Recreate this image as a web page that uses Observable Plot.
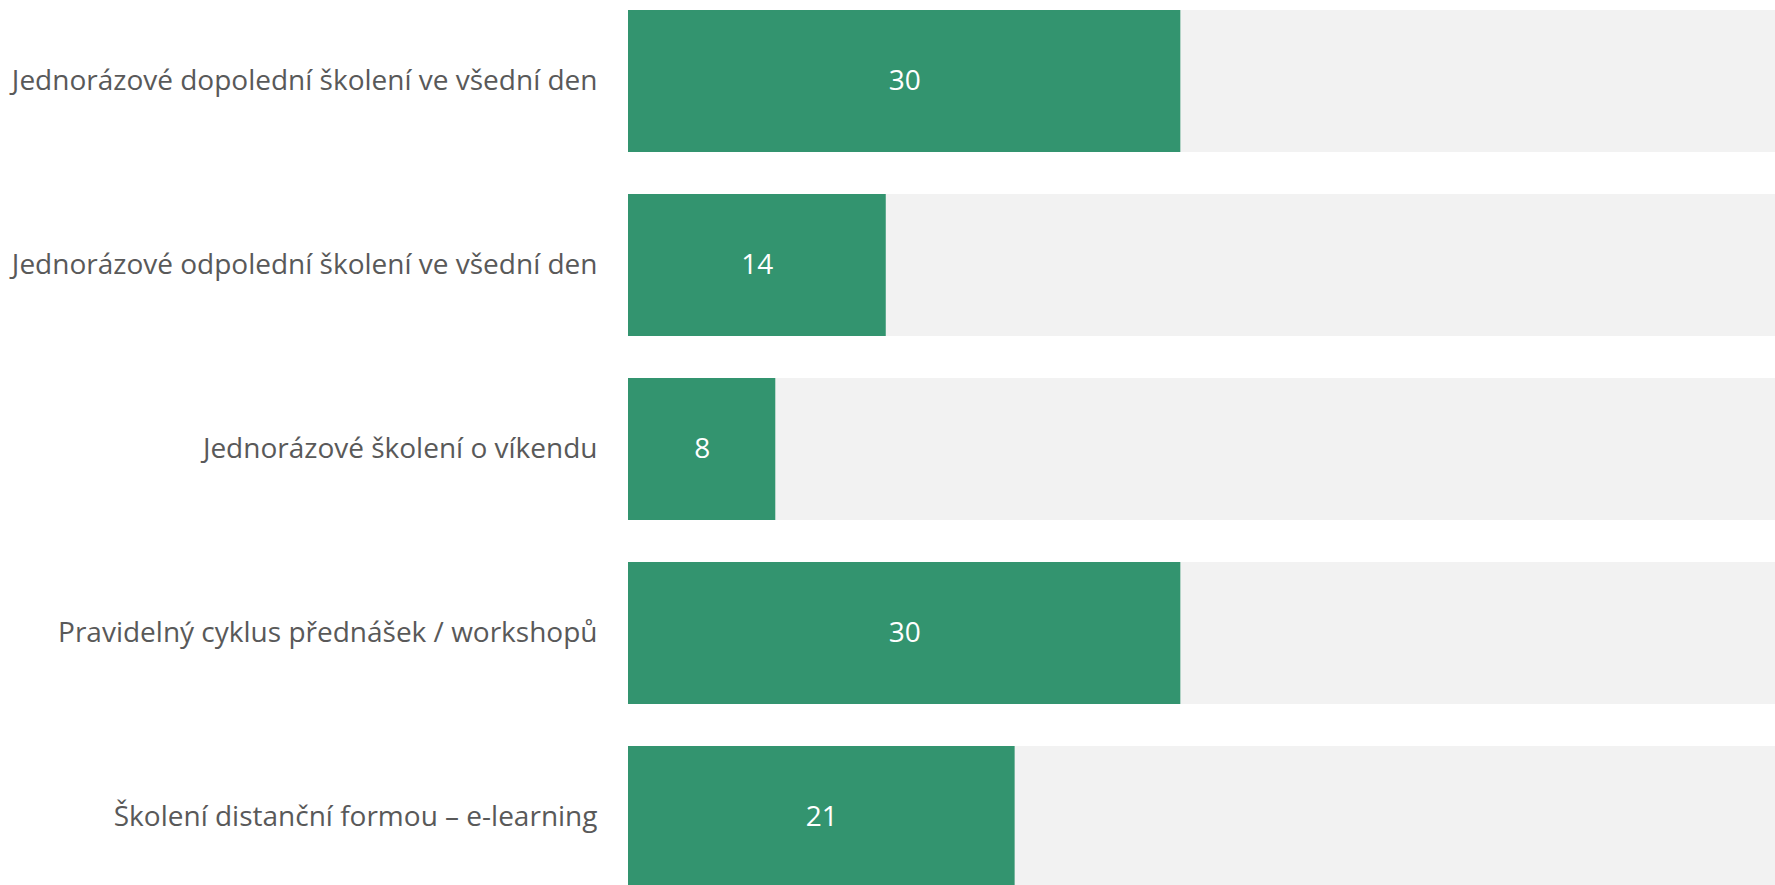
<!DOCTYPE html>
<html>
<head>
<meta charset="utf-8">
<script src="https://cdn.jsdelivr.net/npm/d3@7"></script>
<script src="https://cdn.jsdelivr.net/npm/@observablehq/plot@0.6"></script>
<style>
  html, body { margin: 0; padding: 0; background: #ffffff; overflow: hidden; }
</style>
</head>
<body>
<div id="chart"></div>
<script>
const categories = [
  "Jednorázové dopolední školení ve všední den",
  "Jednorázové odpolední školení ve všední den",
  "Jednorázové školení o víkendu",
  "Pravidelný cyklus přednášek / workshopů",
  "Školení distanční formou – e-learning"
];
const values = [30, 14, 8, 30, 21];
const axisMax = 62.3;

const data = categories.map((c, i) => ({category: c, value: values[i], full: axisMax}));

const chart = Plot.plot({
  width: 1775,
  height: 885,
  marginLeft: 628,
  marginRight: 0,
  marginTop: 0,
  marginBottom: 0,
  style: {fontFamily: "'Open Sans', sans-serif", background: "#ffffff"},
  x: {domain: [0, axisMax], range: [628, 1775], axis: null},
  y: {domain: categories, range: [9, 889], paddingInner: 0.23, paddingOuter: 0, label: null},
  marks: [
    Plot.barX(data, {y: "category", x: "full", fill: "#f2f2f2"}),
    Plot.barX(data, {y: "category", x: "value", fill: "#33946f"}),
    Plot.text(data, {y: "category", x: d => d.value / 2, text: d => String(d.value), fill: "#ffffff", fontSize: 28, textAnchor: "middle"}),
    Plot.axisY({tickSize: 0, tickPadding: 31, fontSize: 28, color: "#595959", textAnchor: "end"})
  ]
});
document.getElementById("chart").appendChild(chart);
</script>
</body>
</html>
